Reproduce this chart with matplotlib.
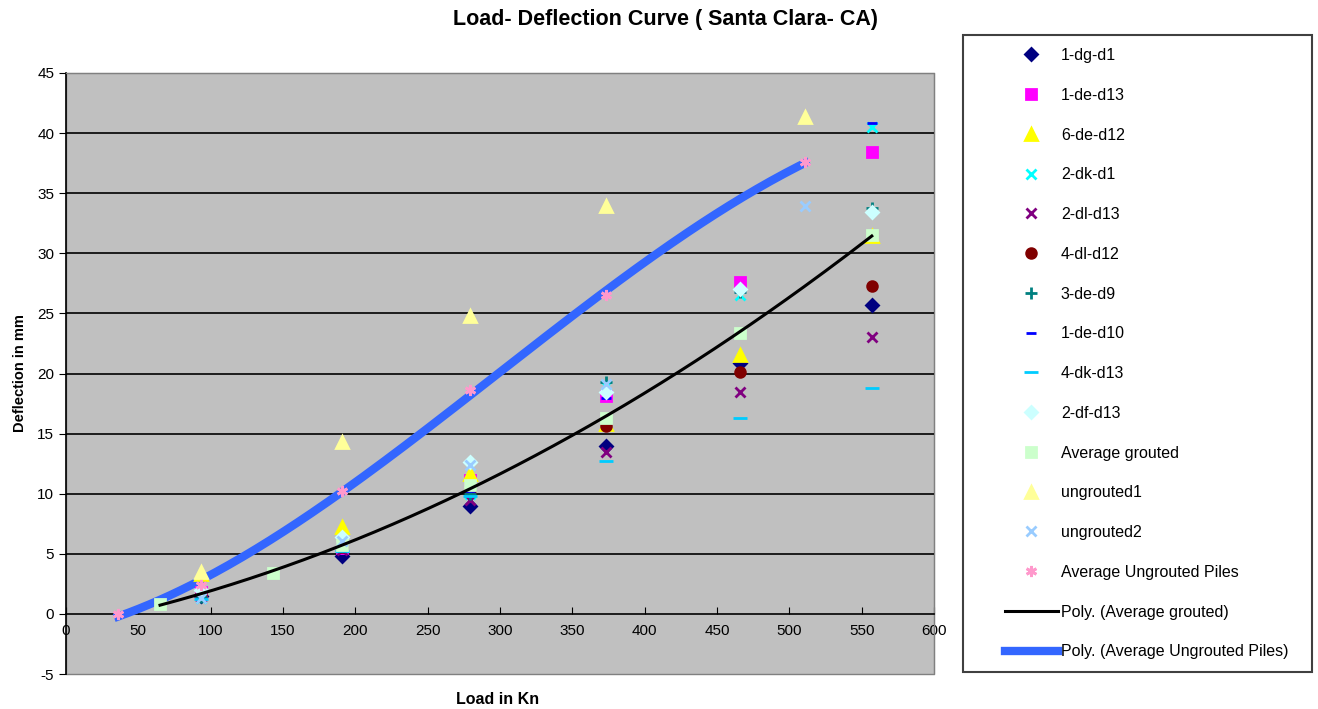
import numpy as np
import matplotlib
matplotlib.use("Agg")
import matplotlib.pyplot as plt
from matplotlib.lines import Line2D
from matplotlib.patches import Rectangle

plt.rcParams['font.family'] = ['Liberation Sans', 'DejaVu Sans']
plt.rcParams['axes.unicode_minus'] = False

# loads for the individual piles
loads = [93, 191, 279, 373, 466, 557]

dg_d1 = [1.5, 4.8, 9.0, 14.0, 20.9, 25.7]
de_d13 = [1.8, 5.5, 11.1, 18.1, 27.6, 38.4]
de_d12 = [3.3, 7.2, 11.6, 15.8, 21.5, 31.4]
dk_d1 = [1.3, 5.5, 10.0, 19.0, 26.5, 40.5]
dl_d13 = [1.4, 5.3, 9.5, 13.5, 18.5, 23.0]
dl_d12 = [1.6, 5.6, 10.3, 15.6, 20.1, 27.3]
de_d9 = [1.4, 5.8, 10.0, 19.3, 26.8, 33.8]
de_d10 = [1.2, 5.4, 10.2, 18.0, 26.9, 40.8]
dk_d13 = [1.2, 5.2, 9.8, 12.7, 16.3, 18.8]
df_d13 = [2.0, 6.4, 12.6, 18.5, 27.0, 33.4]

# averages and ungrouted piles
avg_g_loads = [65, 143, 191, 279, 373, 466, 557]
avg_grouted = [0.8, 3.4, 5.7, 10.7, 16.3, 23.4, 31.5]

ung_loads = [36, 93, 191, 279, 373, 511]
ungrouted1 = [0.0, 3.5, 14.3, 24.8, 33.9, 41.3]
ungrouted2 = [0.0, 1.3, 6.1, 12.4, 19.1, 33.9]
avg_ungrouted = [0.0, 2.4, 10.2, 18.6, 26.5, 37.6]

fig = plt.figure(figsize=(13.18, 7.09), dpi=100)
ax = fig.add_axes([66/1318, 35/709, 868/1318, 601/709])
ax.set_facecolor('#C0C0C0')

star = (6, 2, 0)
series = [
    ('1-dg-d1', loads, dg_d1, 'D', '#000080', 6),
    ('1-de-d13', loads, de_d13, 's', '#FF00FF', 7),
    ('6-de-d12', loads, de_d12, '^', '#FFFF00', 8),
    ('2-dk-d1', loads, dk_d1, 'x', '#00FFFF', 7),
    ('2-dl-d13', loads, dl_d13, 'x', '#800080', 7),
    ('4-dl-d12', loads, dl_d12, 'o', '#800000', 7),
    ('3-de-d9', loads, de_d9, '+', '#008080', 9),
    ('1-de-d10', loads, de_d10, '_', '#0000FF', 7),
    ('4-dk-d13', loads, dk_d13, '_', '#00CCFF', 10),
    ('2-df-d13', loads, df_d13, 'D', '#CCFFFF', 6),
    ('Average grouted', avg_g_loads, avg_grouted, 's', '#CCFFCC', 7),
    ('ungrouted1', ung_loads[1:], ungrouted1[1:], '^', '#FFFF99', 8),
    ('ungrouted2', ung_loads[1:], ungrouted2[1:], 'x', '#99CCFF', 7),
    ('Average Ungrouted Piles', ung_loads, avg_ungrouted, star, '#FF99CC', 8),
]

handles = []
for name, xs, ys, m, c, s in series:
    ax.plot(xs, ys, ls='none', marker=m, color=c, ms=s, mew=2, zorder=4)
    handles.append(Line2D([], [], ls='none', marker=m, color=c, ms=s, mew=2, label=name))

# polynomial trendlines (like Excel)
p1 = np.polyfit(avg_g_loads, avg_grouted, 2)
xg = np.linspace(min(avg_g_loads), max(avg_g_loads), 200)
ax.plot(xg, np.polyval(p1, xg), color='black', lw=2.2, zorder=5)
p2 = np.polyfit(ung_loads, avg_ungrouted, 3)
xu = np.linspace(min(ung_loads), max(ung_loads), 200)
ax.plot(xu, np.polyval(p2, xu), color='#3366FF', lw=6, zorder=3)
handles.append(Line2D([], [], color='black', lw=2.2, label='Poly. (Average grouted)'))
handles.append(Line2D([], [], color='#3366FF', lw=6, label='Poly. (Average Ungrouted Piles)'))

ax.set_xlim(0, 600)
ax.set_ylim(-5, 45)
ax.set_xticks(np.arange(0, 601, 50))
ax.set_yticks(np.arange(-5, 46, 5))
for yv in range(5, 45, 5):
    ax.axhline(yv, color='black', lw=1.2, zorder=1)

ax.spines['bottom'].set_position(('data', 0))
ax.spines['bottom'].set_color('black')
ax.spines['bottom'].set_linewidth(1.2)
ax.spines['left'].set_linewidth(1.2)
for sp in ['top', 'right']:
    ax.spines[sp].set_color('#808080')
ax.tick_params(axis='x', direction='in', length=5, labelsize=11, pad=7)
ax.tick_params(axis='y', direction='out', length=5, labelsize=11)
ax.add_patch(Rectangle((0, -5), 600, 50, fill=False, ec='#808080', lw=1,
                       transform=ax.transData, zorder=0, clip_on=False))

fig.text(0.505, 0.973, 'Load- Deflection Curve ( Santa Clara- CA)',
         ha='center', va='center', fontsize=15.5, fontweight='bold')
fig.text(498/1318, 1 - 700/709, 'Load in Kn', ha='center', va='center',
         fontsize=11.5, fontweight='bold')
fig.text(20/1318, 1 - 373/709, 'Deflection in mm', ha='center', va='center',
         rotation=90, fontsize=10.5, fontweight='bold')

# legend box
fig.patches.append(Rectangle((963/1318, 1 - 672/709), 349/1318, 637/709,
                             transform=fig.transFigure, fill=True, fc='white',
                             ec='#404040', lw=1.5, zorder=0))
fig.legend(handles=handles, loc='upper left',
           bbox_to_anchor=(1005/1318, 1 - 48/709), frameon=False,
           fontsize=11.5, labelspacing=1.55, handlelength=3.3,
           handletextpad=0.2, borderpad=0, borderaxespad=0)

plt.savefig('out.png', dpi=100)
